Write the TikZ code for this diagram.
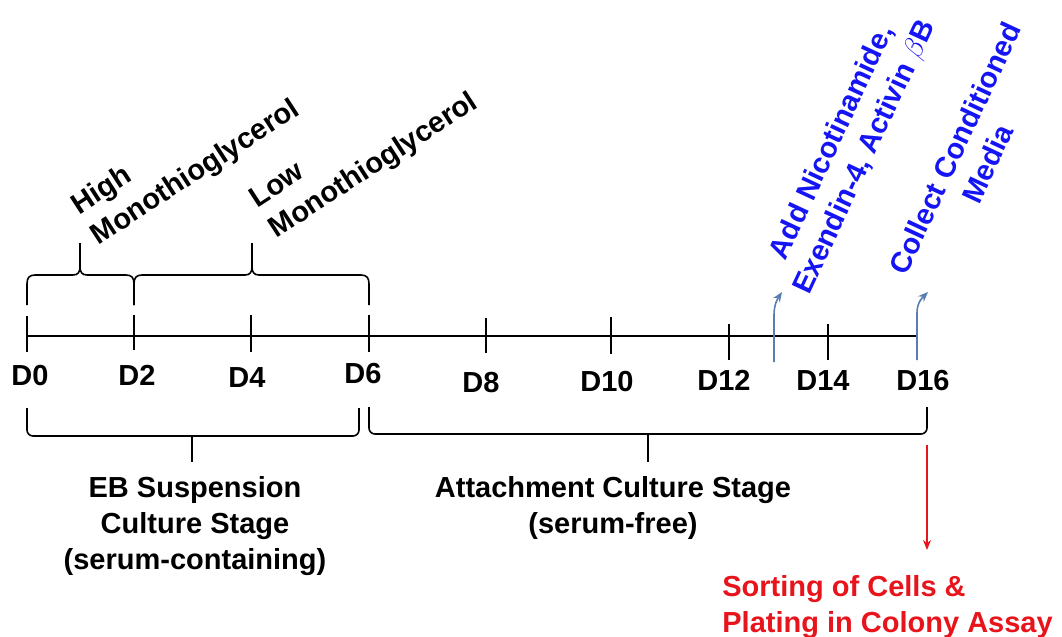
\documentclass[tikz,border=0pt]{standalone}
\usepackage{fontspec}
\setmainfont{Liberation Sans}
\usetikzlibrary{arrows.meta}
\definecolor{addblue}{RGB}{20,20,245}
\definecolor{arrowblue}{RGB}{90,125,175}
\definecolor{sortred}{RGB}{232,20,27}
\def\topbrace(#1:#2:#3){\draw[line width=0.8pt] (#1,305) -- (#1,284) .. controls (#1,278) and (#1+2,275) .. (#1+8,275) -- (#2-7,275) .. controls (#2-2,275) and (#2,272) .. (#2,267) -- (#2,243);
	\draw[line width=0.8pt] (#2,267) .. controls (#2,272) and (#2+2,275) .. (#2+7,275) -- (#3-8,275) .. controls (#3-2,275) and (#3,278) .. (#3,284) -- (#3,305);}

\begin{document}
\begin{tikzpicture}[x=0.5pt, y=-0.5pt,
		daylab/.style={font=\bfseries\fontsize{14.5}{18}\selectfont, inner sep=0pt},
		stagelab/.style={font=\bfseries\fontsize{14.5}{18}\selectfont, inner sep=0pt, align=center},
		addlab/.style={font=\bfseries\fontsize{14.5}{18}\selectfont, inner sep=0pt, text=addblue, align=center},
		sortlab/.style={font=\bfseries\fontsize{14.5}{18}\selectfont, inner sep=0pt, text=sortred, align=left},
		daytick/.style={line width=0.8pt},
		addarrow/.style={line width=0.8pt, color=arrowblue, -{Stealth[length=5pt,width=4pt]}}]
			%%%%% START %%%%%
			
			\useasboundingbox (0,0) rectangle (1062,637);
			
			% time axis
			\coordinate (a0) at (27,336);
			\coordinate (a16) at (917,336);
			\draw[daytick] (a0) -- (a16);
			
			\draw[daytick] (27,316) -- (27,352);
			\draw[daytick] (134,315) -- (134,350);
			\draw[daytick] (251,315) -- (251,352);
			\draw[daytick] (369,315) -- (369,352);
			\draw[daytick] (486,318) -- (486,353);
			\draw[daytick] (611,317) -- (611,354);
			\draw[daytick] (729,324) -- (729,360);
			\draw[daytick] (828,324) -- (828,360);
			
			\node[daylab, anchor=base] (d0) at (30,385) {D0};
			\node[daylab, anchor=base] (d2) at (137,385) {D2};
			\node[daylab, anchor=base] (d4) at (247,387) {D4};
			\node[daylab, anchor=base] (d6) at (363,383) {D6};
			\node[daylab, anchor=base] (d8) at (481,392) {D8};
			\node[daylab, anchor=base] (d10) at (607,391) {D10};
			\node[daylab, anchor=base] (d12) at (724,390) {D12};
			\node[daylab, anchor=base] (d14) at (823,390) {D14};
			\node[daylab, anchor=base] (d16) at (923,390) {D16};
			
			% monothioglycerol
			\topbrace(27:80:134)
			\topbrace(134:252:369)
			\node[daylab, rotate=33, anchor=south west, align=left] (high) at (102,251) {High\\Monothioglycerol};
			\node[daylab, rotate=33, anchor=south west, align=left] (low) at (280,244) {Low\\Monothioglycerol};
			
			% additions
			\coordinate (n0) at (774,362);
			\coordinate (n1) at (774,315);
			\coordinate (n2) at (782,292);
			\draw[addarrow] (n0) -- (n1) .. controls (774,304) and (778,298) .. (n2);
			\coordinate (c0) at (917,360);
			\coordinate (c1) at (917,313);
			\coordinate (c2) at (928,292);
			\draw[addarrow] (c0) -- (c1) .. controls (917,302) and (923,297) .. (c2);
			\node[addlab, rotate=65] (nic) at (849,150) {Add Nicotinamide,\\Exendin-4, Activin $\beta$B};
			\node[addlab, rotate=65] (media) at (971,156) {Collect Conditioned\\Media};
			
			% stages
			\draw[daytick, rounded corners=3] (27,408) |- (359,436) -- (359,408);
			\draw[daytick] (192,436) -- (192,462);
			\draw[daytick, rounded corners=3] (369,407) |- (927,434) -- (927,407);
			\draw[daytick] (648,434) -- (648,462);
			\node[stagelab, anchor=north] (eb) at (195,476) {EB Suspension\\Culture Stage\\(serum-containing)};
			\node[stagelab, anchor=north] (att) at (613,476) {Attachment Culture Stage\\(serum-free)};
			
			% sorting
			\coordinate (s0) at (927,445);
			\coordinate (s1) at (927,550);
			\draw[line width=0.8pt, color=sortred, -{Stealth[length=5pt,width=4pt]}] (s0) -- (s1);
			\node[sortlab, anchor=north west] (sort) at (722,575) {Sorting of Cells \&\\Plating in Colony Assay};
			
			%%%%% END %%%%%
\end{tikzpicture}
\end{document}
